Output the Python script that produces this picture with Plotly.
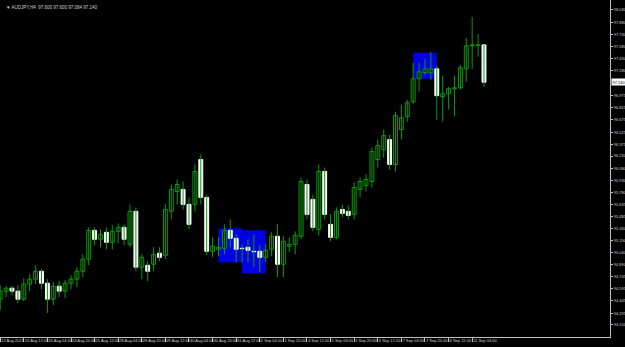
import plotly.graph_objects as go

# ---- data (AUDJPY, H4) ----
bar_index = list(range(83))
open_ = [94.467, 94.566, 94.603, 94.566, 94.467, 94.652, 94.713, 94.811, 94.664, 94.467,
         94.627, 94.566, 94.664, 94.713, 94.811, 94.959, 95.315, 95.205, 95.291, 95.168,
         95.303, 95.352, 95.143, 95.549, 94.861, 94.885, 94.897, 95.033, 95.008, 95.549,
         95.794, 95.819, 95.635, 95.635, 96.187, 95.721, 95.057, 95.082, 95.094, 95.315,
         95.217, 95.094, 95.106, 95.057, 95.057, 94.983, 95.082, 95.242, 94.897, 95.119,
         95.143, 95.242, 95.880, 95.696, 95.327, 96.040, 95.389, 95.229, 95.573, 95.549,
         95.512, 95.819, 95.868, 95.917, 96.187, 96.310, 96.433, 96.126, 96.556, 96.716,
         96.900, 97.182, 97.256, 97.256, 97.305, 96.961, 96.998, 97.060, 97.072, 97.305,
         97.588, 97.594, 97.600]
high = [94.639, 94.627, 94.627, 94.639, 94.725, 94.775, 94.885, 94.836, 94.713, 94.676,
        94.689, 94.701, 94.762, 94.861, 95.020, 95.352, 95.352, 95.327, 95.352, 95.377,
        95.401, 95.389, 95.635, 95.598, 95.020, 94.934, 95.106, 95.106, 95.635, 95.880,
        95.942, 95.917, 95.721, 96.126, 96.249, 95.757, 95.229, 95.229, 95.389, 95.450,
        95.266, 95.143, 95.205, 95.266, 95.131, 95.143, 95.291, 95.389, 95.242, 95.229,
        95.303, 95.966, 95.942, 95.757, 96.126, 96.089, 95.512, 95.598, 95.635, 95.622,
        95.905, 95.966, 96.003, 96.335, 96.433, 96.556, 96.495, 96.777, 96.863, 96.924,
        97.379, 97.379, 97.428, 97.514, 97.342, 97.219, 97.084, 97.219, 97.354, 97.686,
        97.944, 97.735, 97.600]
low = [94.332, 94.492, 94.517, 94.418, 94.442, 94.566, 94.652, 94.590, 94.296, 94.393,
       94.492, 94.480, 94.590, 94.615, 94.738, 94.885, 95.131, 95.106, 95.082, 95.082,
       95.155, 95.131, 95.106, 94.811, 94.713, 94.689, 94.811, 94.934, 94.959, 95.450,
       95.635, 95.573, 95.327, 95.549, 95.635, 95.008, 94.983, 94.996, 95.020, 95.106,
       94.922, 94.922, 94.922, 94.861, 94.799, 94.922, 94.996, 94.738, 94.738, 95.045,
       95.020, 95.205, 95.450, 95.303, 95.254, 95.450, 95.180, 95.205, 95.475, 95.450,
       95.450, 95.721, 95.794, 95.843, 96.089, 96.212, 96.065, 96.040, 96.433, 96.654,
       96.875, 97.023, 97.232, 97.170, 96.679, 96.654, 96.802, 96.728, 97.047, 97.146,
       97.305, 97.453, 97.084]
close = [94.566, 94.603, 94.566, 94.467, 94.652, 94.713, 94.811, 94.664, 94.467, 94.627,
         94.566, 94.664, 94.713, 94.811, 94.959, 95.315, 95.205, 95.266, 95.168, 95.303,
         95.352, 95.205, 95.549, 94.861, 94.983, 94.811, 95.020, 94.983, 95.573, 95.819,
         95.880, 95.635, 95.389, 96.040, 95.721, 95.057, 95.119, 95.106, 95.315, 95.217,
         95.082, 95.088, 95.069, 95.051, 94.983, 95.069, 95.242, 94.897, 95.180, 95.143,
         95.254, 95.917, 95.512, 95.352, 96.040, 95.512, 95.229, 95.549, 95.524, 95.499,
         95.843, 95.917, 95.942, 96.286, 96.359, 96.482, 96.126, 96.728, 96.703, 96.888,
         97.182, 97.268, 97.305, 97.305, 96.974, 96.998, 97.060, 97.072, 97.318, 97.588,
         97.600, 97.600, 97.140]

tick_bars = [0, 4, 8, 12, 16, 20, 24, 28, 32, 36, 40, 44, 48, 52, 56, 60, 64, 68, 72, 76, 80]
tick_labels = ["22 Aug 2023", "23 Aug 12:00", "24 Aug 04:00", "24 Aug 20:00", "25 Aug 12:00",
               "28 Aug 04:00", "28 Aug 20:00", "29 Aug 12:00", "30 Aug 04:00", "30 Aug 20:00",
               "31 Aug 12:00", "1 Sep 04:00", "1 Sep 20:00", "4 Sep 12:00", "5 Sep 04:00",
               "5 Sep 20:00", "6 Sep 12:00", "7 Sep 04:00", "7 Sep 20:00", "8 Sep 12:00",
               "11 Sep 04:00"]
price_ticks = [94.000, 94.150, 94.295, 94.445, 94.595, 94.745, 94.890, 95.040, 95.190, 95.340,
               95.485, 95.635, 95.780, 95.930, 96.080, 96.230, 96.375, 96.525, 96.675, 96.825,
               96.975, 97.280, 97.430, 97.580, 97.730, 97.880, 98.030]

rect_start = [37, 41, 70]
rect_end = [41, 45, 74]
rect_top = [95.340, 95.315, 97.502]
rect_bottom = [94.922, 94.787, 97.182]

symbol = "AUDJPY,H4"

# ---- styling ----
GREEN = "#0a9a0a"
AXIS = "#c0c0c0"
TXT = "#d0d0d0"
BLUE = "rgb(0,0,228)"
FONT = "Liberation Sans"

fig = go.Figure()

wx, wy = [], []
for i, h, l in zip(bar_index, high, low):
    wx += [i, i, None]
    wy += [l, h, None]
fig.add_trace(go.Scatter(x=wx, y=wy, mode="lines", line=dict(color=GREEN, width=1),
                         hoverinfo="skip", showlegend=False))

base = [min(o, c) for o, c in zip(open_, close)]
height = [max(abs(c - o), 0.004) for o, c in zip(open_, close)]
bull = [c > o for o, c in zip(open_, close)]
fill = ["black" if b else "white" for b in bull]
edge = [GREEN if b else "white" for b in bull]
fig.add_trace(go.Bar(x=bar_index, y=height, base=base, width=0.66,
                     marker=dict(color=fill, line=dict(color=edge, width=1)),
                     showlegend=False))

for x0, x1, y0, y1 in zip(rect_start, rect_end, rect_bottom, rect_top):
    fig.add_shape(type="rect", xref="x", yref="y", x0=x0, x1=x1, y0=y0, y1=y1,
                  fillcolor=BLUE, line=dict(width=0), layer="below")

fig.add_annotation(xref="paper", yref="paper", x=0.006, y=0.992, xanchor="left", yanchor="top",
                   text=f"▼ {symbol}  {open_[-1]:.3f} {high[-1]:.3f} {low[-1]:.3f} {close[-1]:.3f}",
                   showarrow=False, font=dict(size=4.5, color=TXT, family=FONT))
fig.add_annotation(xref="paper", yref="y", x=1.0, y=close[-1], xanchor="left", yanchor="middle",
                   text=f"{close[-1]:.3f}", showarrow=False, bgcolor="white", borderpad=0.5,
                   xshift=1, font=dict(size=4, color="black", family=FONT))

fig.update_layout(
    width=625, height=347,
    margin=dict(l=0, r=15, t=0, b=10),
    paper_bgcolor="black", plot_bgcolor="black",
    barmode="overlay", showlegend=False,
    xaxis=dict(range=[-0.034, 103.36], tickvals=tick_bars, ticktext=tick_labels,
               ticks="outside", ticklen=4, tickcolor=AXIS, showline=True, linecolor=AXIS,
               linewidth=1, ticklabelposition="outside right", ticklabelstandoff=-1,
               tickangle=0, showgrid=False, zeroline=False,
               tickfont=dict(size=4, color=TXT, family=FONT), automargin=False),
    yaxis=dict(range=[94.001, 98.153], side="right", tickvals=price_ticks,
               ticktext=[f"{v:.3f}" for v in price_ticks], ticks="outside", ticklen=2,
               tickcolor=AXIS, showline=True, linecolor=AXIS, linewidth=1, showgrid=False,
               zeroline=False, tickfont=dict(size=4, color=TXT, family=FONT),
               automargin=False),
)

fig.write_html("out.html")
